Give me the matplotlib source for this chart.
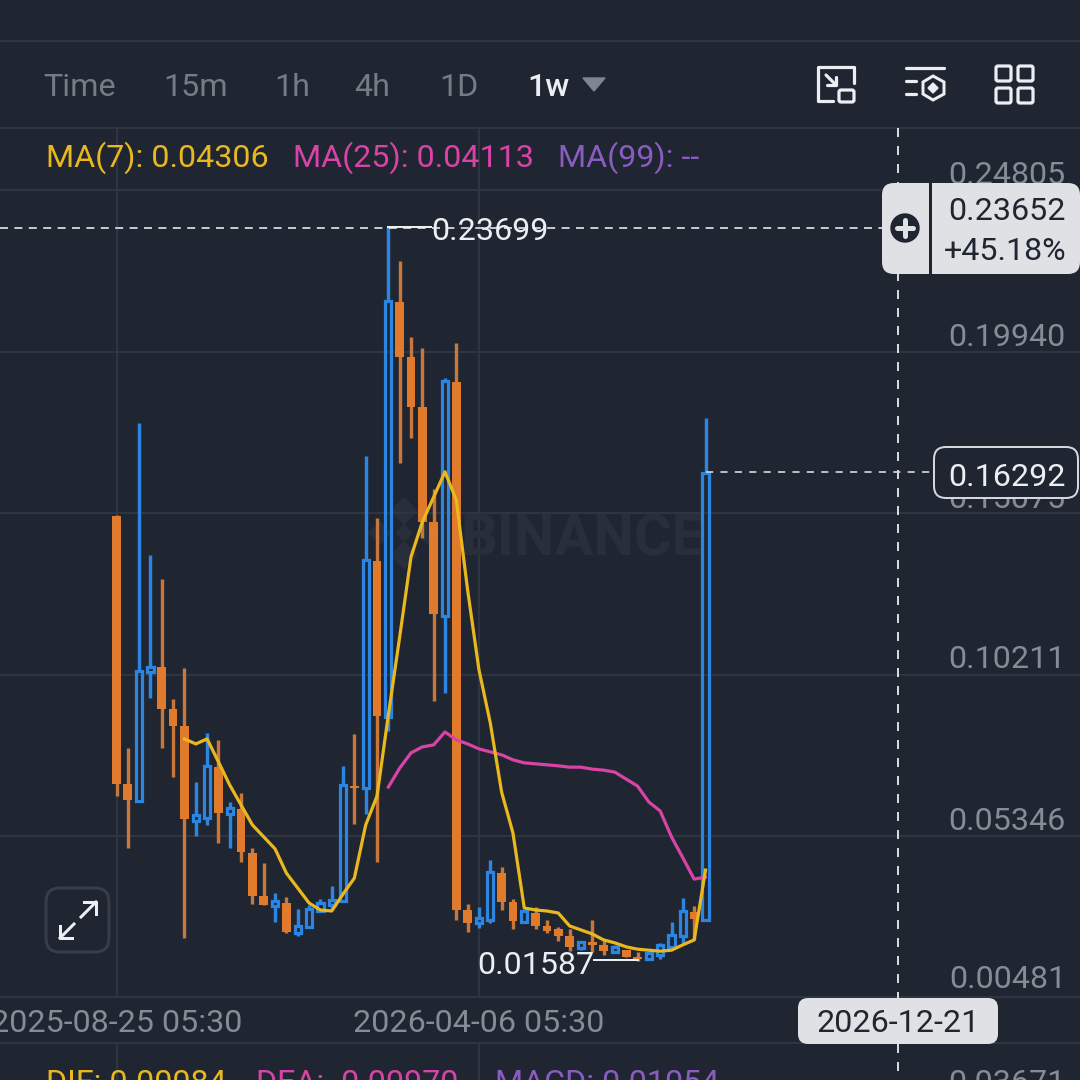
import matplotlib
matplotlib.use('Agg')
import matplotlib.pyplot as plt
from matplotlib.patches import FancyBboxPatch, Circle, Polygon

plt.rcParams['font.family'] = ['Roboto', 'DejaVu Sans']

opens = [.1499, .0692, .0641, .1029, .1044, .0918, .0867, .0581, .0590, .0743,
         .0602, .0617, .0485, .0355, .0325, .0334, .0244, .0262, .0310, .0328,
         .0340, .0686, .0680, .1364, .0894, .2143, .1978, .1827, .1481, .1198,
         .1903, .0313, .0274, .0283, .0424, .0337, .0277, .0304, .0265, .0256,
         .0236, .0199, .0217, .0208, .0186, .0192, .0171, .0165, .0177, .0202,
         .0236, .0307, .0283]
highs = [.1502, .0801, .1779, .1382, .1310, .0948, .1041, .0698, .0846, .0825,
         .0638, .0665, .0500, .0454, .0364, .0352, .0316, .0328, .0346, .0385,
         .0746, .0843, .1680, .1493, .23699, .2267, .2038, .2005, .1580, .1915,
         .2020, .0331, .0322, .0464, .0442, .0346, .0313, .0322, .0283, .0262,
         .0256, .0217, .0283, .0223, .0208, .0192, .0186, .0183, .0214, .0277,
         .0349, .0325, .1794]
lows = [.0656, .0500, .0641, .0951, .0801, .0713, .0229, .0536, .0569, .0515,
        .0500, .0457, .0331, .0328, .0277, .0244, .0236, .0262, .0310, .0313,
        .0340, .0572, .0602, .0457, .0852, .1659, .1734, .1433, .0942, .0966,
        .0283, .0247, .0259, .0274, .0313, .0256, .0277, .0256, .0244, .0220,
        .0189, .0192, .0186, .0177, .0186, .0171, .01587, .0165, .0165, .0202,
        .0214, .0223, .0283]
closes = [.0692, .0644, .1032, .1044, .0918, .0867, .0587, .0599, .0746, .0605,
          .0620, .0488, .0355, .0328, .0340, .0247, .0265, .0316, .0334, .0343,
          .0689, .0680, .1367, .0897, .2146, .1978, .1827, .1481, .1204, .1906,
          .0313, .0274, .0289, .0427, .0337, .0280, .0310, .0265, .0250, .0236,
          .0202, .0217, .0208, .0189, .0202, .0171, .0165, .0183, .0208, .0238,
          .0310, .0286, .16292]

ma7 = [.0828, .0813, .0828, .0759, .0689, .0629, .0569, .0533, .0497, .0424,
       .0379, .0334, .0313, .0310, .0361, .0409, .0569, .0656, .0900, .1135,
       .1376, .1481, .1556, .1632, .1547, .1276, .1036, .0876, .0668, .0545,
       .0319, .0313, .0310, .0304, .0265, .0253, .0241, .0223, .0214, .0202,
       .0195, .0192, .0189, .0192, .0208, .0223, .0433]
ma25 = [.0683, .0740, .0786, .0804, .0810, .0849, .0825, .0813, .0798, .0789,
        .0780, .0765, .0756, .0753, .0750, .0747, .0743, .0743, .0737, .0734,
        .0728, .0707, .0686, .0638, .0611, .0533, .0470, .0406, .0412]

price_ticks = [0.24805, 0.19940, 0.15075, 0.10211, 0.05346, 0.00481]
price_labels = ['0.24805', '0.19940', '0.15075', '0.10211', '0.05346', '0.00481']
date_labels = ['2025-08-25 05:30', '2026-04-06 05:30']
date_idx = [0, 32]
intervals = ['Time', '15m', '1h', '4h', '1D']

BG = '#1f2631'
GRID = '#2e3540'
GREY = '#858c96'
ORANGE = '#e07b2b'
ORANGE_W = '#c9763a'
BLUE = '#2a86e2'
YELLOW = '#e9b81f'
PINK = '#d943a8'
PURPLE = '#8a5cc2'
LIGHT = '#dfe1e5'
DARK = '#1f2631'
WHITE = '#eceef1'
PX = 0.72  # points per pixel at dpi 100
FS = 23.2

fig = plt.figure(figsize=(10.8, 10.8), dpi=100, facecolor=BG)


def pixel_axes(z):
    a = fig.add_axes([0, 0, 1, 1], zorder=z)
    a.set_xlim(0, 1080)
    a.set_ylim(1080, 0)
    a.axis('off')
    return a


back = pixel_axes(0)
ax = fig.add_axes([0, 0, 1, 1], zorder=1)
ax.patch.set_alpha(0)
ax.axis('off')
# index 0 sits at x=116.5, one candle is 11.327 px
ax.set_xlim(-116.5 / 11.327, (1080 - 116.5) / 11.327)
ax.set_ylim(-0.01988, 0.30525)
ui = pixel_axes(2)

# grid
for t in price_ticks[:-1]:
    ax.axhline(t, color=GRID, lw=2 * PX, zorder=0)
for i in date_idx:
    x = 116.5 + i * 11.327
    back.plot([x, x], [128, 997], color=GRID, lw=2 * PX)
    back.plot([x, x], [1043, 1080], color=GRID, lw=2 * PX)
for y in [41, 128, 997, 1043]:
    back.plot([0, 1080], [y, y], color=GRID, lw=2 * PX)

# watermark
back.text(460, 534, 'BINANCE', color='#282f3a', fontsize=41.5, fontweight='bold',
          va='center_baseline', ha='left')
for dx, dy, r in [(0, -22, 13), (-24, 0, 11), (0, 22, 13), (24, 0, 11), (0, 0, 8)]:
    cx, cy = 404 + dx, 533 + dy
    back.add_patch(Polygon([(cx - r, cy), (cx, cy - r), (cx + r, cy), (cx, cy + r)], color='#282f3a'))

# candles
for i in range(len(opens)):
    o, h, l, c = opens[i], highs[i], lows[i], closes[i]
    if c < o:
        ax.vlines(i, l, h, color=ORANGE_W, lw=3.4 * PX, zorder=2)
        ax.bar(i, o - c, bottom=c, width=0.77, color=ORANGE, zorder=3)
    else:
        ax.vlines(i, c, h, color=BLUE, lw=3.4 * PX, zorder=2)
        ax.vlines(i, l, o, color=BLUE, lw=3.4 * PX, zorder=2)
        ax.bar(i, c - o, bottom=o, width=0.55, facecolor='none', edgecolor=BLUE,
               linewidth=3.2 * PX, zorder=3)

# moving averages
ax.plot(range(24, 53), ma25, color=PINK, lw=3.2 * PX, zorder=4)
ax.plot(range(6, 53), ma7, color=YELLOW, lw=3.2 * PX, zorder=5)

# crosshair
ui.plot([898, 898], [128, 1000], color=WHITE, lw=1.8 * PX, dashes=(5, 5))
ui.plot([898, 898], [1044, 1080], color=WHITE, lw=1.8 * PX, dashes=(5, 5))
ui.plot([0, 885], [228, 228], color=WHITE, lw=1.6 * PX, dashes=(5, 4))
ui.plot([706, 936], [472, 472], color='#c9ccd1', lw=1.8 * PX, dashes=(4, 4))

TEXT = dict(fontsize=FS, va='center_baseline')

# price labels on the right
for lab, y in zip(price_labels, [173, 334, 496, 657, 819, 977]):
    ui.text(1066, y, lab, color=GREY, ha='right', zorder=3, **TEXT)

# date labels
for lab, i in zip(date_labels, date_idx):
    ui.text(116.5 + i * 11.327, 1021, lab, color=GREY, ha='center', **TEXT)

# interval row
for lab, x in zip(intervals, [43, 163, 274, 354, 439]):
    ui.text(x, 85, lab, color='#757c86', ha='left', **TEXT)
ui.text(527, 85, '1w', color=WHITE, fontweight='medium', ha='left', **TEXT)
ui.add_patch(Polygon([(583, 78), (605, 78), (594, 91)], color='#7f8691'))

# legends
ui.text(46, 154, 'MA(7): 0.04306', color=YELLOW, **TEXT)
ui.text(293, 154, 'MA(25): 0.04113', color=PINK, **TEXT)
ui.text(558, 154, 'MA(99): --', color=PURPLE, **TEXT)
ui.text(46, 1081, 'DIF: 0.00084', color=YELLOW, clip_on=True, **TEXT)
ui.text(256, 1081, 'DEA: -0.00970', color=PINK, clip_on=True, **TEXT)
ui.text(495, 1081, 'MACD: 0.01054', color=PURPLE, clip_on=True, **TEXT)
ui.text(1066, 1081, '0.03671', color=GREY, ha='right', clip_on=True, **TEXT)

# high and low marks
ui.plot([388, 431], [227, 227], color=WHITE, lw=2 * PX)
ui.text(431, 228, '0.23699', color=WHITE, **TEXT)
ui.plot([594, 638], [960, 960], color=WHITE, lw=2 * PX)
ui.text(594, 962, '0.01587', color=WHITE, ha='right', **TEXT)


def rbox(x0, y0, x1, y1, r, **kw):
    p = FancyBboxPatch((x0 + r, y0 + r), x1 - x0 - 2 * r, y1 - y0 - 2 * r,
                       boxstyle='round,pad=%d,rounding_size=%d' % (r, r), **kw)
    ui.add_patch(p)


# current price badge
rbox(882, 183, 1080, 274, 12, facecolor=LIGHT, edgecolor='none', zorder=6)
ui.plot([929.5, 929.5], [183, 274], color=DARK, lw=3 * PX, zorder=7)
ui.text(1066, 209, '0.23652', color=DARK, ha='right', zorder=7, **TEXT)
ui.text(1066, 249, '+45.18%', color=DARK, ha='right', zorder=7, **TEXT)
ui.add_patch(Circle((905, 228), 14, color=DARK, zorder=7))
ui.plot([897, 913], [228, 228], color=LIGHT, lw=5 * PX, zorder=8, solid_capstyle='round')
ui.plot([905, 905], [220, 236], color=LIGHT, lw=5 * PX, zorder=8, solid_capstyle='round')

# last price box
rbox(934, 447, 1078, 498, 12, facecolor=BG, edgecolor='#d5d7db', linewidth=2 * PX, zorder=6)
ui.text(1066, 474, '0.16292', color=WHITE, ha='right', zorder=7, **TEXT)

# crosshair date badge
rbox(798, 998, 998, 1044, 10, facecolor=LIGHT, edgecolor='none', zorder=6)
ui.text(898, 1021, '2026-12-21', color=DARK, ha='center', zorder=7, **TEXT)

# expand button
rbox(46, 888, 109, 952, 14, facecolor='none', edgecolor='#373e49', linewidth=3 * PX)
ui.plot([81, 96], [917, 902], color=WHITE, lw=3 * PX)
ui.plot([84, 96, 96], [902, 902, 914], color=WHITE, lw=3 * PX)
ui.plot([74, 60], [924, 938], color=WHITE, lw=3 * PX)
ui.plot([60, 60, 72], [926, 938, 938], color=WHITE, lw=3 * PX)

# top right icons
icon = dict(color=WHITE, lw=3.2 * PX, solid_capstyle='round', solid_joinstyle='round')
ui.plot([854, 854, 818, 818, 833], [83, 67, 67, 101, 101], **icon)
rbox(839, 90, 854, 102, 2, facecolor='none', edgecolor=WHITE, linewidth=3.2 * PX)
ui.plot([826, 836], [75, 85], **icon)
ui.plot([827, 836, 836], [85, 85, 77], **icon)

ui.plot([906, 944], [67.5, 67.5], **icon)
ui.plot([906, 916], [81, 81], **icon)
ui.plot([906, 916], [94, 94], **icon)
ui.add_patch(Polygon([(933, 76), (944, 82), (944, 94), (933, 100), (923, 94), (923, 82)],
                     closed=True, fill=False, edgecolor=WHITE, linewidth=3 * PX))
ui.add_patch(Polygon([(933, 83), (938, 88), (933, 93), (928, 88)], color=WHITE))

for x0 in [996, 1018]:
    for y0 in [66, 88]:
        rbox(x0, y0, x0 + 15, y0 + 15, 2, facecolor='none', edgecolor=WHITE, linewidth=3.2 * PX)

fig.savefig('out.png', dpi=100, facecolor=BG)
